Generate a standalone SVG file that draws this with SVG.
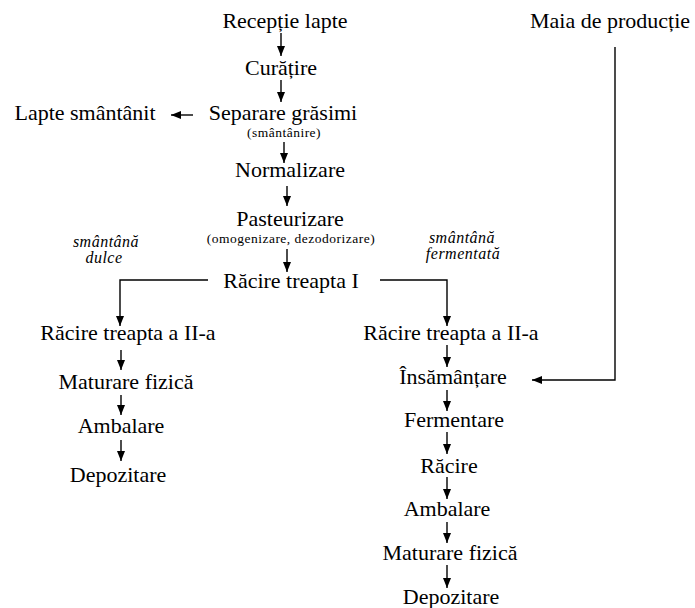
<svg xmlns="http://www.w3.org/2000/svg" width="695" height="608" viewBox="0 0 695 608">
  <style>
    .t { font-family: "Liberation Serif", "Times New Roman", serif; font-size: 22px; fill: #000; text-anchor: middle; }
    .s { font-family: "Liberation Serif", "Times New Roman", serif; font-size: 13.5px; letter-spacing: 0.5px; fill: #000; text-anchor: middle; }
    .i { font-family: "Liberation Serif", "Times New Roman", serif; font-size: 16px; font-style: italic; letter-spacing: 0.5px; fill: #000; text-anchor: middle; }
    .c { fill: none; stroke: #000; stroke-width: 1.4; }
  </style>
  <defs>
    <marker id="ah" viewBox="0 0 10 8" refX="10" refY="4" markerWidth="10" markerHeight="8" markerUnits="userSpaceOnUse" orient="auto">
      <path d="M0,0 L10,4 L0,8 Z" fill="#000"/>
    </marker>
  </defs>

  <rect width="695" height="608" fill="#fff"/>

  <!-- connectors -->
  <g id="connectors" class="c" marker-end="url(#ah)">
    <path d="M281,33 V56"/>
    <path d="M281,80 V102"/>
    <path d="M193,115 H171"/>
    <path d="M284,142 V163"/>
    <path d="M287,186 V206"/>
    <path d="M287,249 V272"/>
    <path d="M208,280 H120 V326"/>
    <path d="M380,280 H447 V326"/>
    <path d="M121,350 V370"/>
    <path d="M121,395 V415"/>
    <path d="M121,440 V461"/>
    <path d="M447,345 V367"/>
    <path d="M447,390 V411"/>
    <path d="M447,432 V454"/>
    <path d="M447,477 V499"/>
    <path d="M447,522 V543"/>
    <path d="M447,565 V588"/>
    <path d="M615,47 V380 H532"/>
  </g>

  <!-- main line -->
  <g id="receptie"><text class="t" x="285" y="28">Recepție lapte</text></g>
  <g id="curatire"><text class="t" x="281" y="75">Curățire</text></g>
  <g id="separare"><text class="t" x="283" y="120">Separare grăsimi</text><text class="s" x="284" y="137">(smântânire)</text></g>
  <g id="lapte-smantanit"><text class="t" x="85" y="120">Lapte smântânit</text></g>
  <g id="normalizare"><text class="t" x="290" y="177">Normalizare</text></g>
  <g id="pasteurizare"><text class="t" x="290" y="226">Pasteurizare</text><text class="s" x="291" y="243">(omogenizare, dezodorizare)</text></g>
  <g id="racire-1"><text class="t" x="291" y="288">Răcire treapta I</text></g>

  <!-- branch labels -->
  <g id="label-dulce"><text class="i" x="106" y="247">smântână</text><text class="i" x="104" y="263">dulce</text></g>
  <g id="label-fermentata"><text class="i" x="462" y="243">smântână</text><text class="i" x="463" y="259">fermentată</text></g>

  <!-- sweet cream branch -->
  <g id="dulce-racire-2"><text class="t" x="128" y="340">Răcire treapta a II-a</text></g>
  <g id="dulce-maturare"><text class="t" x="126" y="389">Maturare fizică</text></g>
  <g id="dulce-ambalare"><text class="t" x="121" y="433">Ambalare</text></g>
  <g id="dulce-depozitare"><text class="t" x="118" y="482">Depozitare</text></g>

  <!-- fermented cream branch -->
  <g id="maia"><text class="t" x="610" y="28">Maia de producție</text></g>
  <g id="ferm-racire-2"><text class="t" x="451" y="340">Răcire treapta a II-a</text></g>
  <g id="insamantare"><text class="t" x="453" y="384">Însămânțare</text></g>
  <g id="fermentare"><text class="t" x="454" y="427">Fermentare</text></g>
  <g id="ferm-racire"><text class="t" x="449" y="473">Răcire</text></g>
  <g id="ferm-ambalare"><text class="t" x="447" y="516">Ambalare</text></g>
  <g id="ferm-maturare"><text class="t" x="450" y="560">Maturare fizică</text></g>
  <g id="ferm-depozitare"><text class="t" x="451" y="604">Depozitare</text></g>
</svg>
